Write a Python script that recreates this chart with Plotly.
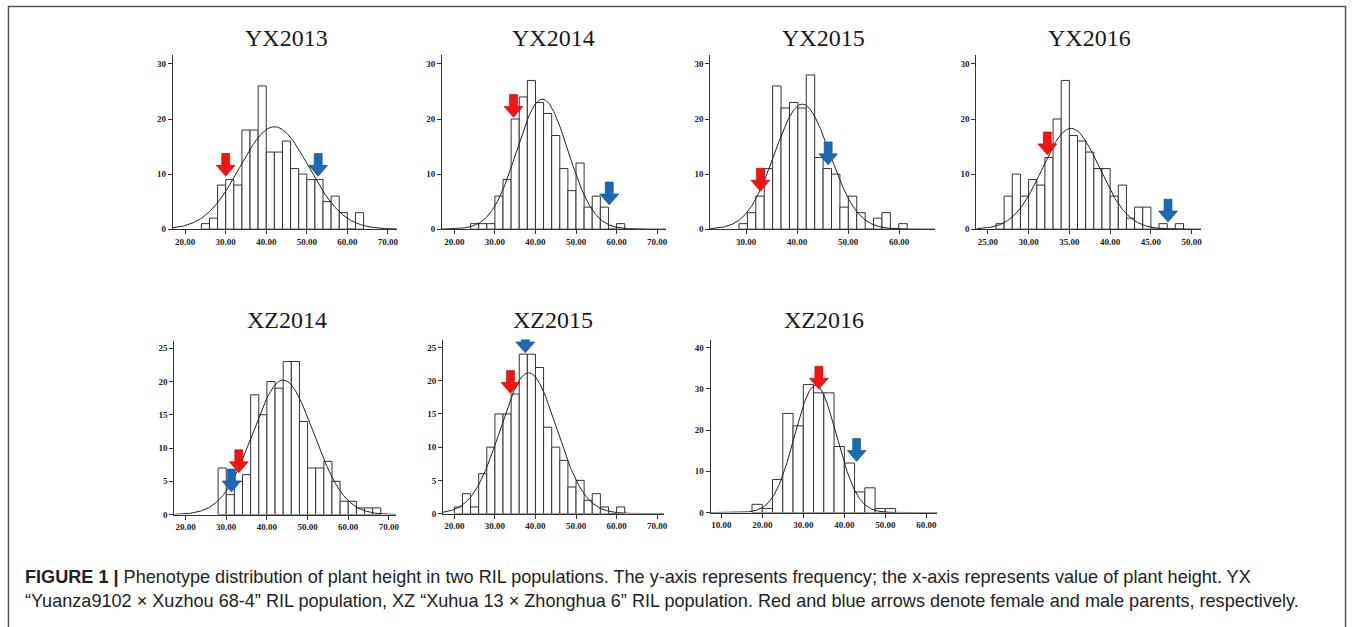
import numpy as np
import plotly.graph_objects as go

# ---------------- data ----------------
titles = ["YX2013", "YX2014", "YX2015", "YX2016", "XZ2014", "XZ2015", "XZ2016"]

bin_start = [24.0, 24.0, 28.6, 26.0, 28.0, 20.0, 17.5]
bin_width = [2.0, 2.0, 1.65, 1.0, 2.0, 2.0, 2.5]

yx2013_counts = [1, 2, 8, 9, 8, 18, 18, 26, 14, 14, 16, 11, 10, 9, 9, 5, 6, 3, 0, 3]
yx2014_counts = [1, 1, 1, 6, 9, 20, 24, 27, 23, 21, 17, 11, 7, 12, 4, 6, 4, 0, 1]
yx2015_counts = [1, 3, 6, 11, 26, 22, 23, 22, 28, 13, 11, 10, 4, 6, 3, 0, 2, 3, 0, 1]
yx2016_counts = [1, 6, 10, 6, 9, 8, 13, 20, 27, 17, 16, 14, 11, 11, 6, 8, 2, 4, 4, 0, 1, 0, 1]
xz2014_counts = [7, 3, 5, 6, 18, 15, 20, 19, 23, 23, 14, 7, 7, 8, 5, 2, 2, 1, 1, 1]
xz2015_counts = [1, 3, 1, 6, 10, 15, 15, 18, 24, 24, 22, 13, 10, 8, 4, 5, 2, 3, 1, 0, 1]
xz2016_counts = [2, 1, 8, 24, 21, 31, 29, 29, 16, 12, 5, 6, 1, 1]
all_counts = [yx2013_counts, yx2014_counts, yx2015_counts, yx2016_counts,
              xz2014_counts, xz2015_counts, xz2016_counts]

# fitted normal curve parameters (mean, sd, peak frequency)
curve_mean = [42.0, 41.7, 41.0, 35.2, 44.0, 38.3, 33.0]
curve_sd = [8.5, 6.3, 5.4, 3.5, 7.5, 6.9, 5.1]
curve_peak = [18.6, 23.6, 22.7, 18.3, 20.2, 21.2, 30.8]

# parent arrows: x position and y of the arrow tip
female_x = [30.0, 34.6, 32.8, 32.3, 33.1, 33.85, 33.8]
female_tip = [9.6, 20.3, 6.9, 13.5, 6.3, 18.1, 29.9]
male_x = [52.8, 58.2, 46.1, 47.1, 31.3, 37.5, 43.0]
male_tip = [9.6, 4.4, 11.7, 1.3, 3.4, 24.2, 12.4]

x_ticks = [[20, 30, 40, 50, 60, 70], [20, 30, 40, 50, 60, 70], [30, 40, 50, 60],
           [25, 30, 35, 40, 45, 50], [20, 30, 40, 50, 60, 70], [20, 30, 40, 50, 60, 70],
           [10, 20, 30, 40, 50, 60]]
y_ticks = [[0, 10, 20, 30]] * 4 + [[0, 5, 10, 15, 20, 25], [0, 5, 10, 15, 20, 25],
                                   [0, 10, 20, 30, 40]]

caption_1 = ("<b>FIGURE 1 |</b> Phenotype distribution of plant height in two RIL populations. "
             "The y-axis represents frequency; the x-axis represents value of plant height. YX")
caption_2 = ("\u201cYuanza9102 \u00d7 Xuzhou 68-4\u201d RIL population, XZ \u201cXuhua 13 \u00d7 "
             "Zhonghua 6\u201d RIL population. Red and blue arrows denote female and male "
             "parents, respectively.")

# ---------------- layout (pixels) ----------------
W, H = 1357, 627
axes_px = [  # x0, x1, ytop, ybottom
    (173.3, 398.0, 55.0, 231.0),
    (443.3, 668.0, 55.0, 231.0),
    (712.3, 938.0, 55.0, 231.0),
    (979.3, 1205.0, 55.0, 231.0),
    (174.7, 397.0, 343.3, 518.7),
    (444.3, 666.0, 342.3, 517.7),
    (712.7, 940.2, 342.3, 516.7),
]
x_ranges = [(16.95, 72.2), (16.95, 72.2), (22.95, 67.1), (23.6, 51.2),
            (17.2, 71.7), (17.2, 71.7), (7.4, 62.7)]
y_ranges = [(0, 31.7)] * 4 + [(0, 26.15), (0, 26.2), (0, 41.9)]
title_px = [(287, 38), (555, 38), (826, 38), (1093, 38), (288, 323), (555, 323), (826, 323)]

SERIF = "Liberation Serif, Times New Roman, serif"
SANS = "Liberation Sans Narrow, Arial Narrow, Liberation Sans, Arial, sans-serif"
RED, RED_EDGE = "#f51414", "#b80000"
BLUE, BLUE_EDGE = "#1b68b4", "#0c4a86"
shaft_w, head_w, head_h, shaft_h = 8.0, 19.0, 11.0, 12.0

fig = go.Figure()
layout = dict(width=W, height=H, margin=dict(l=0, r=0, t=0, b=0),
              paper_bgcolor="white", plot_bgcolor="white", showlegend=False)
shapes, annotations = [], []


def arrow_path(x, y, kx, ky):
    pts = [(x, y),
           (x - head_w / 2 / kx, y + head_h / ky),
           (x - shaft_w / 2 / kx, y + head_h / ky),
           (x - shaft_w / 2 / kx, y + (head_h + shaft_h) / ky),
           (x + shaft_w / 2 / kx, y + (head_h + shaft_h) / ky),
           (x + shaft_w / 2 / kx, y + head_h / ky),
           (x + head_w / 2 / kx, y + head_h / ky)]
    return "M " + " L ".join(f"{a:.4f},{b:.4f}" for a, b in pts) + " Z"


for i in range(7):
    n = "" if i == 0 else str(i + 1)
    xa, ya = "x" + n, "y" + n
    x0, x1, yt, yb = axes_px[i]
    counts = all_counts[i]
    w = bin_width[i]
    centers = [bin_start[i] + (k + 0.5) * w for k in range(len(counts))]
    fig.add_trace(go.Bar(x=centers, y=counts, width=w, xaxis=xa, yaxis=ya,
                         marker=dict(color="white", line=dict(color="#333333", width=1)),
                         hoverinfo="skip"))
    xs = np.linspace(x_ranges[i][0], x_ranges[i][1], 400)
    ys = curve_peak[i] * np.exp(-(xs - curve_mean[i]) ** 2 / (2 * curve_sd[i] ** 2))
    fig.add_trace(go.Scatter(x=xs, y=ys, mode="lines", xaxis=xa, yaxis=ya,
                             line=dict(color="#222222", width=1), hoverinfo="skip"))

    layout["xaxis" + n] = dict(
        domain=[x0 / W, x1 / W], range=list(x_ranges[i]), anchor=ya,
        showline=True, linecolor="#333333", linewidth=1, showgrid=False, zeroline=False,
        ticks="outside", ticklen=4, tickcolor="#333333", tickvals=x_ticks[i],
        tickformat=".2f", tickfont=dict(family=SERIF, size=9, color="#222222", weight="bold"))
    layout["yaxis" + n] = dict(
        domain=[1 - yb / H, 1 - yt / H], range=list(y_ranges[i]), anchor=xa,
        showline=True, linecolor="#333333", linewidth=1, showgrid=False, zeroline=False,
        ticks="outside", ticklen=4, tickcolor="#333333", tickvals=y_ticks[i],
        tickfont=dict(family=SERIF, size=9, color="#222222", weight="bold"))

    kx = (x1 - x0) / (x_ranges[i][1] - x_ranges[i][0])
    ky = (yb - yt) / (y_ranges[i][1] - y_ranges[i][0])
    shapes.append(dict(type="path", xref=xa, yref=ya, layer="above",
                       path=arrow_path(female_x[i], female_tip[i], kx, ky),
                       fillcolor=RED, line=dict(color=RED_EDGE, width=0.6)))
    shapes.append(dict(type="path", xref=xa, yref=ya, layer="above",
                       path=arrow_path(male_x[i], male_tip[i], kx, ky),
                       fillcolor=BLUE, line=dict(color=BLUE_EDGE, width=0.6)))

    tx, ty = title_px[i]
    annotations.append(dict(text=titles[i], xref="paper", yref="paper", x=tx / W, y=1 - ty / H,
                            xanchor="center", yanchor="middle", showarrow=False,
                            font=dict(family=SERIF, size=24, color="#1a1a1a")))

# frame
shapes.append(dict(type="rect", xref="paper", yref="paper", x0=8.5 / W, x1=1349.5 / W,
                   y0=-0.05, y1=1 - 6.5 / H, line=dict(color="#555555", width=1.5),
                   fillcolor="rgba(0,0,0,0)", layer="below"))

annotations.append(dict(text=caption_1, xref="paper", yref="paper", x=23 / W, y=1 - 582 / H,
                        xanchor="left", yanchor="middle", showarrow=False, align="left",
                        font=dict(family=SANS, size=18.1, color="#222222")))
annotations.append(dict(text=caption_2, xref="paper", yref="paper", x=23 / W, y=1 - 606 / H,
                        xanchor="left", yanchor="middle", showarrow=False, align="left",
                        font=dict(family=SANS, size=18.1, color="#222222")))

layout["shapes"] = shapes
layout["annotations"] = annotations
fig.update_layout(**layout)
fig.write_html("out.html", config={"displayModeBar": False},
               post_script="document.body.style.margin='0';document.body.style.overflow='hidden';")
